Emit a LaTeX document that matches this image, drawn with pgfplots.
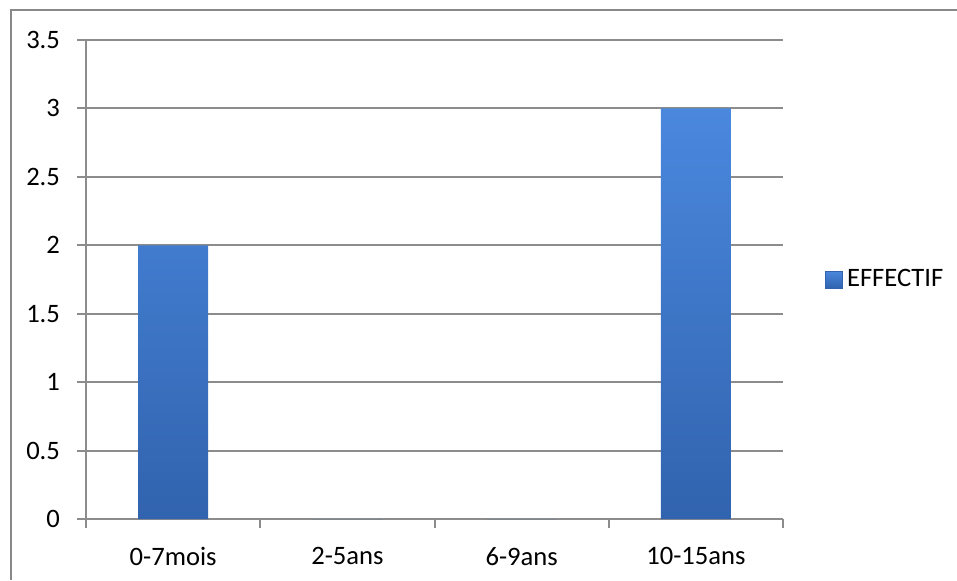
\documentclass[border=0pt]{standalone}
\usepackage{pgfplots}
\pgfplotsset{compat=1.18}
\usepackage{fontspec}
\setmainfont{Carlito}
\definecolor{gridgray}{HTML}{8C8C8C}
\definecolor{framegray}{HTML}{888888}
\definecolor{bartop}{HTML}{4A88DE}
\definecolor{barbot}{HTML}{3163AE}
\definecolor{barblue}{HTML}{3F78CC}
\begin{document}
\begin{tikzpicture}
\useasboundingbox (0,0) rectangle (478.5pt,290pt);
\draw[framegray, line width=1pt] (5.25pt,0) -- (5.25pt,285pt) -- (478.5pt,285pt);
\begin{axis}[
  at={(43pt,30.5pt)}, anchor=south west,
  scale only axis, width=348.5pt, height=239.5pt,
  xmin=0.5, xmax=4.5, ymin=0, ymax=3.5,
  axis lines=left, axis line style={gridgray, line width=1pt, -},
  ybar, bar width=35pt,
  xtick={1,2,3,4},
  xticklabels={0-7mois,2-5ans,6-9ans,10-15ans},
  major x tick style={draw=none},
  minor xtick={0.5,1.5,2.5,3.5,4.5},
  minor x tick style={gridgray, line width=1pt},
  ytick={0,0.5,...,3.5},
  y tick style={gridgray, line width=1pt},
  tick align=outside, major tick length=4.5pt, minor tick length=4.5pt,
  ymajorgrids, grid style={gridgray, line width=1pt},
  /pgf/number format/assume math mode=true,
  tick label style={font=\fontsize{13.3}{15}\selectfont, text=black},
  yticklabel style={xshift=-5pt},
  xticklabel style={yshift=-6pt},
  legend style={at={(1.06,0.5)}, anchor=west, draw=none, fill=none,
    font=\fontsize{13.3}{15}\selectfont, inner sep=0pt},
  legend image code/.code={\draw[draw=barbot, top color=bartop, bottom color=barbot] (0pt,-4.25pt) rectangle (8.5pt,4.25pt);},
]
\addplot[draw=none, top color=bartop, bottom color=barbot] coordinates {(1,2) (2,0) (3,0) (4,3)};
\addlegendentry{EFFECTIF}
\end{axis}
\end{tikzpicture}
\end{document}
